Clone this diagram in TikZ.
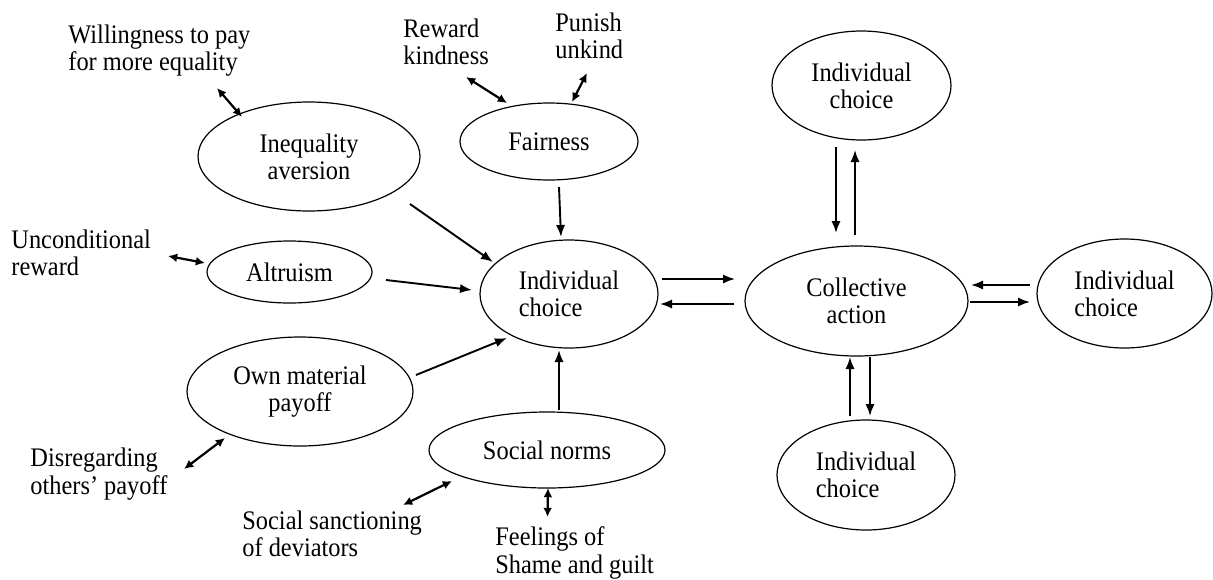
\documentclass[tikz,border=0pt]{standalone}
\usepackage{fontspec}
\setmainfont[FakeStretch=0.91]{Liberation Serif}
\usetikzlibrary{shapes.geometric,arrows.meta}
\begin{document}
\begin{tikzpicture}[x=0.5pt,y=-0.5pt,
 every node/.style={font=\fontsize{13.4}{13.6}\selectfont, inner sep=0pt},
 ell/.style n args={2}{ellipse,draw,line width=0.6pt,align=center,minimum width=#1pt,minimum height=#2pt},
 ellL/.style n args={2}{ellipse,draw,line width=0.6pt,align=left,minimum width=#1pt,minimum height=#2pt},
 lbl/.style={anchor=west,align=left},
 arr/.style={line width=0.95pt,-{Latex[length=6pt,width=4.6pt]}},
 darr/.style={line width=1.1pt,{Latex[length=4.6pt,width=4.4pt]}-{Latex[length=4.6pt,width=4.4pt]}}]
\useasboundingbox (0,0) rectangle (1213,579);

% ellipses
\node[ell={111}{54.5}] (ineq) at (309,156.5) {Inequality\\aversion};
\node[ell={89}{38.5}] (fair) at (549,141.5) {Fairness};
\node[ell={82.5}{31}] (altr) at (289.5,272) {Altruism};
\node[ell={113}{54.5}] (own) at (300,391.5) {Own material\\payoff};
\node[ell={118}{38}] (norms) at (547,450) {Social norms};
\node[ellL={89}{54}] (ic) at (569,294) {Individual\\choice};
\node[ell={111.5}{55}] (ca) at (856.5,301) {Collective\\action};
\node[ell={89.5}{54.5}] (ictop) at (861.5,85.5) {Individual\\choice};
\node[ellL={87.5}{54.5}] (icright) at (1124.5,293.5) {Individual\\choice};
\node[ellL={89}{55}] (icbot) at (866,475) {Individual\\choice};

% labels
\node[lbl] (willing) at (68,50.5) {Willingness to pay\\for more equality};
\node[lbl] (reward) at (403,41.5) {Reward\\kindness};
\node[lbl] (punish) at (555,35.5) {Punish\\unkind};
\node[lbl] (uncond) at (11,252.5) {Unconditional\\reward};
\node[lbl] (disreg) at (30,474) {Disregarding\\others’ payoff};
\node[lbl] (sanction) at (242,534) {Social sanctioning\\of deviators};
\node[lbl] (feel) at (495,553) {Feelings of\\Shame and guilt};

% connector end points
\coordinate (willing-e) at (217,88);   \coordinate (ineq-w) at (242,117);
\coordinate (reward-e) at (466,77);    \coordinate (fair-r) at (507,103);
\coordinate (punish-e) at (587,73);    \coordinate (fair-p) at (572,102);
\coordinate (uncond-e) at (168,256);   \coordinate (altr-u) at (205,263);
\coordinate (disreg-e) at (184,469);   \coordinate (own-d) at (225,438);
\coordinate (sanction-e) at (403,505); \coordinate (norms-s) at (452,481);
\coordinate (feel-e) at (547.5,517);   \coordinate (norms-f) at (548,488);

\coordinate (ineq-o) at (410,204);  \coordinate (ic-i) at (493,262);
\coordinate (fair-o) at (559,187);  \coordinate (ic-f) at (561,237);
\coordinate (altr-o) at (386,280);  \coordinate (ic-a) at (472,290);
\coordinate (own-o) at (416,375);   \coordinate (ic-o) at (507,338);
\coordinate (norms-o) at (559,410); \coordinate (ic-n) at (559,350);

\coordinate (ic-c1) at (662,279);   \coordinate (ca-i1) at (735,279);
\coordinate (ca-i2) at (734,304);   \coordinate (ic-c2) at (660,304);

\coordinate (ictop-d) at (836,147); \coordinate (ca-td) at (836,233);
\coordinate (ca-tu) at (855,235);   \coordinate (ictop-u) at (855,150);
\coordinate (icright-l) at (1030,285); \coordinate (ca-rl) at (971,285);
\coordinate (ca-rr) at (970,302);   \coordinate (icright-r) at (1030,302);
\coordinate (icbot-u) at (850,416); \coordinate (ca-bu) at (850,357);
\coordinate (ca-bd) at (870,357);   \coordinate (icbot-d) at (870,416);

% double arrows
\draw[darr] (willing-e) -- (ineq-w);
\draw[darr] (reward-e) -- (fair-r);
\draw[darr] (punish-e) -- (fair-p);
\draw[darr] (uncond-e) -- (altr-u);
\draw[darr] (disreg-e) -- (own-d);
\draw[darr] (sanction-e) -- (norms-s);
\draw[darr] (norms-f) -- (feel-e);

% single arrows
\draw[arr] (ineq-o) -- (ic-i);
\draw[arr] (fair-o) -- (ic-f);
\draw[arr] (altr-o) -- (ic-a);
\draw[arr] (own-o) -- (ic-o);
\draw[arr] (norms-o) -- (ic-n);
\draw[arr] (ic-c1) -- (ca-i1);
\draw[arr] (ca-i2) -- (ic-c2);
\draw[arr] (ictop-d) -- (ca-td);
\draw[arr] (ca-tu) -- (ictop-u);
\draw[arr] (icright-l) -- (ca-rl);
\draw[arr] (ca-rr) -- (icright-r);
\draw[arr] (icbot-u) -- (ca-bu);
\draw[arr] (ca-bd) -- (icbot-d);
\end{tikzpicture}
\end{document}
